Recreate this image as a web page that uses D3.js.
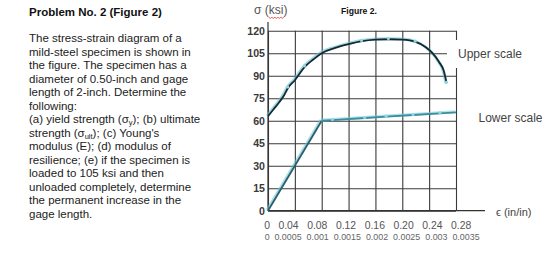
<!DOCTYPE html>
<html><head><meta charset="utf-8">
<script src="https://cdn.jsdelivr.net/npm/d3@7"></script>
<style>
body{margin:0;background:#fff}
svg{display:block;font-family:"Liberation Sans",Arial,sans-serif}
</style>
</head><body>
<svg id="c" width="560" height="266"></svg>
<script>
// ---------- data ----------
const yTicks = [0, 15, 30, 45, 60, 75, 90, 105, 120];
const xTicksUpper = [0, 0.04, 0.08, 0.12, 0.16, 0.20, 0.24, 0.28];
const xLabelsUpper = ["0", "0.04", "0.08", "0.12", "0.16", "0.20", "0.24", "0.28"];
const xTicksLower = [0, 0.0005, 0.001, 0.0015, 0.002, 0.0025, 0.003, 0.0035];
const xLabelsLower = ["0", "0.0005", "0.001", "0.0015", "0.002", "0.0025", "0.003", "0.0035"];

// upper-scale curve (strain on upper scale)
const upperStrain = [0, 0.008, 0.017, 0.024, 0.03, 0.04, 0.055, 0.068, 0.08, 0.10, 0.12, 0.14, 0.16, 0.18, 0.20, 0.22, 0.235, 0.245, 0.255, 0.262, 0.266];
const upperStress = [63, 67.5, 72.5, 77, 82, 87, 96, 101, 105, 108.5, 111, 113, 114, 114.3, 114, 112.5, 109, 105, 99, 93, 85];
const upperMarkerIdx = [4, 6, 11, 13, 15, 20];

// lower-scale lines (strain on lower scale)
const elasticStrain = [0, 0.001];
const elasticStress = [0, 60];
const plasticStrain = [0.001, 0.0012, 0.0018, 0.0022, 0.0027, 0.0032, 0.0035];
const plasticStress = [60, 60.4, 61.8, 62.7, 63.8, 64.9, 65.6];
const plasticMarkerIdx = [1, 2, 3, 4, 5];

const paragraph = [
  "The stress-strain diagram of a",
  "mild-steel specimen is shown in",
  "the figure. The specimen has a",
  "diameter of 0.50-inch and gage",
  "length of 2-inch. Determine the",
  "following:",
  ["(a) yield strength (σ", "y", "); (b) ultimate"],
  ["strength (σ", "ult", "); (c) Young's"],
  "modulus (E); (d) modulus of",
  "resilience; (e) if the specimen is",
  "loaded to 105 ksi and then",
  "unloaded completely, determine",
  "the permanent increase in the",
  "gage length."
];

// ---------- layout ----------
const X0 = 268, X1 = 456, Y0 = 210.7, Y1 = 30.7;
const svg = d3.select("#c");
const FF = "'Liberation Sans',Arial,sans-serif";

const xU = d3.scaleLinear().domain([0, 0.28]).range([X0, X1]);
const xL = d3.scaleLinear().domain([0, 0.0035]).range([X0, X1]);
const y = d3.scaleLinear().domain([0, 120]).range([Y0, Y1]);
// tick-label placement (labels in the figure sit slightly off the grid lines)
const xULab = d3.scaleLinear().domain([0, 0.04, 0.28]).range([266.7, 288, 460.6]);
const xLLab = d3.scaleLinear().domain([0, 0.0005, 0.0035]).range([266.7, 287.5, 465.5]);

// ---------- left text ----------
svg.append("text").attr("x", 29).attr("y", 16)
  .attr("font-size", 11.5).attr("font-weight", "bold").attr("fill", "#111")
  .text("Problem No. 2 (Figure 2)");

const para = svg.append("g").attr("font-size", 11.5).attr("fill", "#222");
paragraph.forEach((ln, i) => {
  const t = para.append("text").attr("x", 29).attr("y", 42 + i * 13.5);
  if (typeof ln === "string") t.text(ln);
  else {
    t.append("tspan").text(ln[0]);
    t.append("tspan").attr("font-size", 7.5).attr("dy", 2).text(ln[1]);
    t.append("tspan").attr("dy", -2).text(ln[2]);
  }
});

// ---------- titles ----------
const st = svg.append("text").attr("x", 254).attr("y", 14)
  .attr("font-size", 12).attr("fill", "#555");
st.append("tspan").text("σ (");
st.append("tspan").text("ksi");
st.append("tspan").text(")");
// red spell-check squiggle under "ksi"
{
  const n = st.node();
  const x0 = 254 + n.getSubStringLength(0, 3);
  const w = n.getSubStringLength(3, 3);
  let d = `M${x0},17`;
  for (let xx = x0, k = 0; xx < x0 + w; xx += 1.5, k++) d += `L${xx + 1.5},${k % 2 ? 17 : 18.5}`;
  svg.append("path").attr("d", d).attr("fill", "none").attr("stroke", "#d33").attr("stroke-width", 0.8);
}
svg.append("text").attr("x", 341).attr("y", 14)
  .attr("font-size", 8.6).attr("font-weight", "bold").attr("fill", "#111")
  .text("Figure 2.");

// ---------- grid + tick labels ----------
const gridColor = "#3a3a3a";
const gy = svg.append("g").attr("transform", `translate(${X0},0)`)
  .call(d3.axisLeft(y).tickValues(yTicks).tickSize(-(X1 - X0)).tickPadding(3));
gy.select(".domain").remove();
gy.attr("font-size", null).attr("font-family", null);
gy.selectAll("line").attr("stroke", gridColor).attr("stroke-width", 1.1);
gy.selectAll("text").style("font-size", "10.6px").style("font-weight", "bold").attr("fill", "#3a3a3a")
  .style("font-family", FF);

// vertical grid lines
const gx = svg.append("g").attr("transform", `translate(0,${Y0})`)
  .call(d3.axisBottom(xU).tickValues(xTicksUpper).tickSize(-(Y0 - Y1)).tickFormat(""));
gx.select(".domain").remove();
gx.selectAll("line").attr("stroke", gridColor).attr("stroke-width", 1.1);

// upper-scale labels
const gxl = svg.append("g").attr("transform", `translate(0,${Y0})`)
  .call(d3.axisBottom(xULab).tickValues(xTicksUpper).tickSize(0).tickPadding(11)
    .tickFormat((d, i) => xLabelsUpper[i]));
gxl.select(".domain").remove();
gxl.attr("font-size", null).attr("font-family", null);
gxl.selectAll("text").style("font-size", "10.4px").attr("fill", "#555")
  .style("font-family", FF);

// lower-scale labels
const gx2 = svg.append("g").attr("transform", `translate(0,${Y0})`)
  .call(d3.axisBottom(xLLab).tickValues(xTicksLower).tickSize(0).tickPadding(23)
    .tickFormat((d, i) => xLabelsLower[i]));
gx2.select(".domain").remove();
gx2.attr("font-size", null).attr("font-family", null);
gx2.selectAll("text").style("font-size", "8.9px").attr("fill", "#666")
  .style("font-family", FF);

// axis lines
svg.append("line").attr("x1", X0).attr("x2", X0).attr("y1", Y0).attr("y2", 22)
  .attr("stroke", "#333").attr("stroke-width", 1.2);
svg.append("line").attr("x1", X0).attr("x2", 485).attr("y1", Y0).attr("y2", Y0)
  .attr("stroke", "#333").attr("stroke-width", 1.2);
svg.append("text").attr("x", 496).attr("y", 215.5).attr("font-size", 11).attr("fill", "#444")
  .text("ϵ (in/in)");

// ---------- curves ----------
function drawSeries(xs, ys, xScale, dark, halo, curve) {
  const pts = xs.map((v, i) => [xScale(v), y(ys[i])]);
  const l = d3.line().curve(curve || d3.curveLinear);
  svg.append("path").attr("d", l(pts.map(p => [p[0] - 0.8, p[1] - 0.6])))
    .attr("fill", "none").attr("stroke", halo).attr("stroke-width", 3).attr("opacity", 0.6);
  svg.append("path").attr("d", l(pts)).attr("fill", "none")
    .attr("stroke", dark).attr("stroke-width", 1.8).attr("stroke-linejoin", "round");
  return pts;
}
drawSeries(elasticStrain, elasticStress, xL, "#2b5f6b", "#6cc6d6");
const pp = drawSeries(plasticStrain, plasticStress, xL, "#3b8e9d", "#7fd0dd");
const up = drawSeries(upperStrain, upperStress, xU, "#172730", "#5fc0d2", d3.curveMonotoneX);

svg.append("g").selectAll("circle").data(plasticMarkerIdx).join("circle")
  .attr("cx", i => pp[i][0]).attr("cy", i => pp[i][1] - 0.5).attr("r", 1.6)
  .attr("fill", "#8fd6e2");
svg.append("g").selectAll("circle").data(upperMarkerIdx).join("circle")
  .attr("cx", i => up[i][0] - 0.5).attr("cy", i => up[i][1] - 0.8).attr("r", 1.6)
  .attr("fill", "#8fd6e2");

// ---------- scale labels ----------
svg.append("rect").attr("x", 447).attr("y", 40).attr("width", 85).attr("height", 28).attr("fill", "#fff");
svg.append("text").attr("x", 458).attr("y", 57.5).attr("font-size", 12).attr("fill", "#444").text("Upper scale");
svg.append("text").attr("x", 478.5).attr("y", 121.5).attr("font-size", 12).attr("fill", "#444").text("Lower scale");
</script>
</body></html>
